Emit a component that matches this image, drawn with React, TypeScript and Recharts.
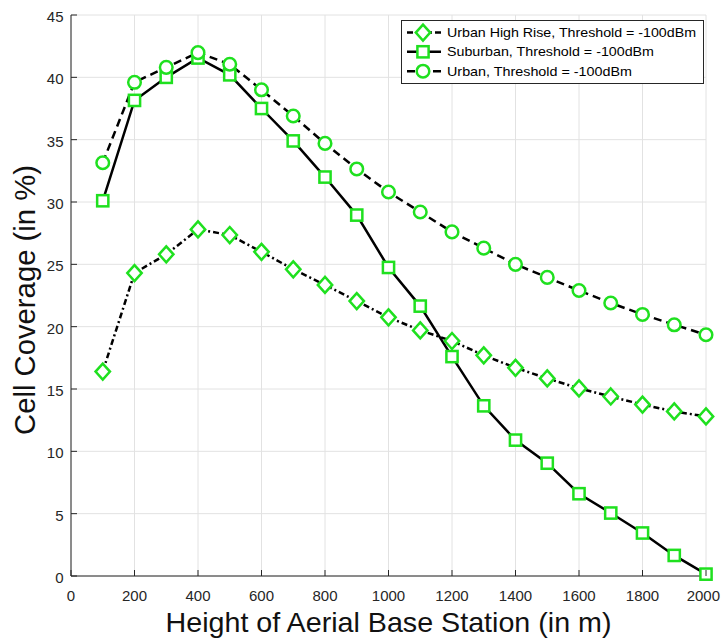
import React from "react";
import {
  LineChart,
  Line,
  XAxis,
  YAxis,
  CartesianGrid,
  Legend,
} from "recharts";

// Aerial base station height (m)
const heights = [100, 200, 300, 400, 500, 600, 700, 800, 900, 1000, 1100, 1200, 1300, 1400, 1500, 1600, 1700, 1800, 1900, 2000];

// Cell coverage (%) per environment
const urbanHighRise = [16.4, 24.3, 25.8, 27.8, 27.35, 26.0, 24.6, 23.35, 22.05, 20.75, 19.7, 18.85, 17.7, 16.7, 15.85, 15.05, 14.4, 13.75, 13.2, 12.8];
const suburban = [30.1, 38.15, 40.0, 41.55, 40.2, 37.5, 34.9, 32.0, 28.95, 24.75, 21.65, 17.6, 13.65, 10.9, 9.05, 6.6, 5.05, 3.45, 1.65, 0.15];
const urban = [33.15, 39.6, 40.8, 41.98, 41.05, 39.0, 36.9, 34.7, 32.65, 30.8, 29.2, 27.6, 26.3, 25.0, 23.95, 22.9, 21.9, 20.98, 20.15, 19.35];

const xTicks = [0, 200, 400, 600, 800, 1000, 1200, 1400, 1600, 1800, 2000];
const yTicks = [0, 5, 10, 15, 20, 25, 30, 35, 40, 45];

const seriesNames = [
  "Urban High Rise, Threshold = -100dBm",
  "Suburban, Threshold = -100dBm",
  "Urban, Threshold = -100dBm",
];
const xTitle = "Height of Aerial Base Station (in m)";
const yTitle = "Cell Coverage (in %)";

const data = heights.map((h, i) => ({
  h,
  uhr: urbanHighRise[i],
  sub: suburban[i],
  urb: urban[i],
}));

const CHART_W = 721;
const CHART_H = 639;
const FONT = "'Liberation Sans', Arial, Helvetica, sans-serif";
const GREEN = "#1fe01f";
const AXIS = "#262626";
const MARK_W = 2.5;
const LINE_W = 2.5;

const DASH_UHR = "6 3 2 3";
const DASH_URB = "8 5";

type DotProps = { cx?: number; cy?: number; index?: number };

const drawDiamond = (cx: number, cy: number, key?: React.Key) => (
  <polygon
    key={key}
    points={`${cx},${cy - 8} ${cx + 7.2},${cy} ${cx},${cy + 8} ${cx - 7.2},${cy}`}
    fill="#ffffff"
    stroke={GREEN}
    strokeWidth={MARK_W}
  />
);
const drawSquare = (cx: number, cy: number, key?: React.Key) => (
  <rect key={key} x={cx - 5.6} y={cy - 5.6} width={11.2} height={11.2} fill="#ffffff" stroke={GREEN} strokeWidth={MARK_W} />
);
const drawCircle = (cx: number, cy: number, key?: React.Key) => (
  <circle key={key} cx={cx} cy={cy} r={6.3} fill="#ffffff" stroke={GREEN} strokeWidth={MARK_W} />
);

const DiamondDot = (p: DotProps) =>
  p.cx == null || p.cy == null ? <g key={p.index} /> : drawDiamond(p.cx, p.cy, p.index);
const SquareDot = (p: DotProps) =>
  p.cx == null || p.cy == null ? <g key={p.index} /> : drawSquare(p.cx, p.cy, p.index);
const CircleDot = (p: DotProps) =>
  p.cx == null || p.cy == null ? <g key={p.index} /> : drawCircle(p.cx, p.cy, p.index);

// Bottom axis: inward tick marks plus labels (last label kept inside the canvas)
const BottomTick = (props: any) => {
  const { x, y, payload } = props;
  const label = String(payload.value);
  const halfW = label.length * 0.556 * 15 / 2;
  const overflow = x + halfW > CHART_W - 1;
  return (
    <g>
      <line x1={x} y1={y} x2={x} y2={y - 6} stroke={AXIS} strokeWidth={1} />
      <text
        x={overflow ? CHART_W - 1 : x}
        y={y + 25}
        textAnchor={overflow ? "end" : "middle"}
        fontSize={15}
        fill={AXIS}
        fontFamily={FONT}
      >
        {label}
      </text>
    </g>
  );
};

// Left axis: inward tick marks plus labels
const LeftTick = (props: any) => {
  const { x, y, payload } = props;
  return (
    <g>
      <line x1={x} y1={y} x2={x + 6} y2={y} stroke={AXIS} strokeWidth={1} />
      <text x={x - 7.5} y={y + 7} textAnchor="end" fontSize={15} fill={AXIS} fontFamily={FONT}>
        {payload.value}
      </text>
    </g>
  );
};

// Top / right box edges: inward ticks only
const TopTick = (props: any) => {
  const { x, y } = props;
  return <line x1={x} y1={y} x2={x} y2={y + 6} stroke={AXIS} strokeWidth={1} />;
};
const RightTick = (props: any) => {
  const { x, y } = props;
  return <line x1={x} y1={y} x2={x - 6} y2={y} stroke={AXIS} strokeWidth={1} />;
};

// Axis titles
const XTitle = (props: any) => {
  const vb = props.viewBox || { x: 0, y: 0, width: 0, height: 0 };
  return (
    <text
      x={vb.x + vb.width / 2}
      y={vb.y + 56}
      textAnchor="middle"
      fontSize={28}
      fill="#111111"
      fontFamily={FONT}
      textLength={446}
      lengthAdjust="spacingAndGlyphs"
    >
      {xTitle}
    </text>
  );
};
const YTitle = (props: any) => {
  const vb = props.viewBox || { x: 0, y: 0, width: 0, height: 0 };
  const cx = vb.x + 35;
  const cy = vb.y + vb.height / 2 + 4.5;
  return (
    <text
      x={cx}
      y={cy}
      transform={`rotate(-90, ${cx}, ${cy})`}
      textAnchor="middle"
      fontSize={29}
      fill="#111111"
      fontFamily={FONT}
      textLength={270}
      lengthAdjust="spacingAndGlyphs"
    >
      {yTitle}
    </text>
  );
};

const LegendBox = () => {
  const rows = [
    { name: seriesNames[0], dash: DASH_UHR, mark: drawDiamond, len: 249 },
    { name: seriesNames[1], dash: undefined, mark: drawSquare, len: 207 },
    { name: seriesNames[2], dash: DASH_URB, mark: drawCircle, len: 185 },
  ];
  const rowY = [12.6, 31.8, 51.2];
  return (
    <svg width={303} height={64} style={{ display: "block" }}>
      <rect x={0.5} y={0.5} width={302} height={63} fill="#ffffff" stroke={AXIS} strokeWidth={1} />
      {rows.map((r, i) => (
        <g key={r.name}>
          <line x1={6} y1={rowY[i]} x2={40} y2={rowY[i]} stroke="#000000" strokeWidth={LINE_W} strokeDasharray={r.dash} />
          {r.mark(22, rowY[i])}
          <text x={46} y={rowY[i] + 4.5} fontSize={13} fill="#000000" fontFamily={FONT} textLength={r.len} lengthAdjust="spacingAndGlyphs">
            {r.name}
          </text>
        </g>
      ))}
    </svg>
  );
};

export default function App() {
  return (
    <div style={{ position: "absolute", left: 0, top: 0, width: CHART_W, height: CHART_H, background: "#ffffff" }}>
      <LineChart
        width={CHART_W}
        height={CHART_H}
        data={data}
        margin={{ top: 15, right: 15, left: 0, bottom: 0 }}
        style={{ fontFamily: FONT }}
      >
        <CartesianGrid stroke="#e2e2e2" strokeWidth={1} />
        <XAxis
          dataKey="h"
          type="number"
          domain={[0, 2000]}
          ticks={xTicks}
          interval={0}
          height={63}
          tickSize={0}
          tickMargin={0}
          tickLine={false}
          axisLine={{ stroke: AXIS, strokeWidth: 1 }}
          tick={BottomTick}
          label={<XTitle />}
        />
        <XAxis
          xAxisId="top"
          orientation="top"
          dataKey="h"
          type="number"
          domain={[0, 2000]}
          ticks={xTicks}
          interval={0}
          height={0}
          tickSize={0}
          tickMargin={0}
          tickLine={false}
          axisLine={{ stroke: AXIS, strokeWidth: 1 }}
          tick={TopTick}
        />
        <YAxis
          type="number"
          domain={[0, 45]}
          ticks={yTicks}
          interval={0}
          width={71}
          tickSize={0}
          tickMargin={0}
          tickLine={false}
          axisLine={{ stroke: AXIS, strokeWidth: 1 }}
          tick={LeftTick}
          label={<YTitle />}
        />
        <YAxis
          yAxisId="right"
          orientation="right"
          type="number"
          domain={[0, 45]}
          ticks={yTicks}
          interval={0}
          width={0}
          tickSize={0}
          tickMargin={0}
          tickLine={false}
          axisLine={{ stroke: AXIS, strokeWidth: 1 }}
          tick={RightTick}
        />
        <Legend
          layout="vertical"
          align="center"
          verticalAlign="middle"
          content={LegendBox}
          wrapperStyle={{ left: 401, top: 20, width: 303, height: 64 }}
        />
        <Line
          dataKey="uhr"
          name={seriesNames[0]}
          type="linear"
          stroke="#000000"
          strokeWidth={LINE_W}
          strokeDasharray={DASH_UHR}
          dot={DiamondDot}
          isAnimationActive={false}
        />
        <Line
          dataKey="sub"
          name={seriesNames[1]}
          type="linear"
          stroke="#000000"
          strokeWidth={LINE_W}
          dot={SquareDot}
          isAnimationActive={false}
        />
        <Line
          dataKey="urb"
          name={seriesNames[2]}
          type="linear"
          stroke="#000000"
          strokeWidth={LINE_W}
          strokeDasharray={DASH_URB}
          dot={CircleDot}
          isAnimationActive={false}
        />
      </LineChart>
    </div>
  );
}
